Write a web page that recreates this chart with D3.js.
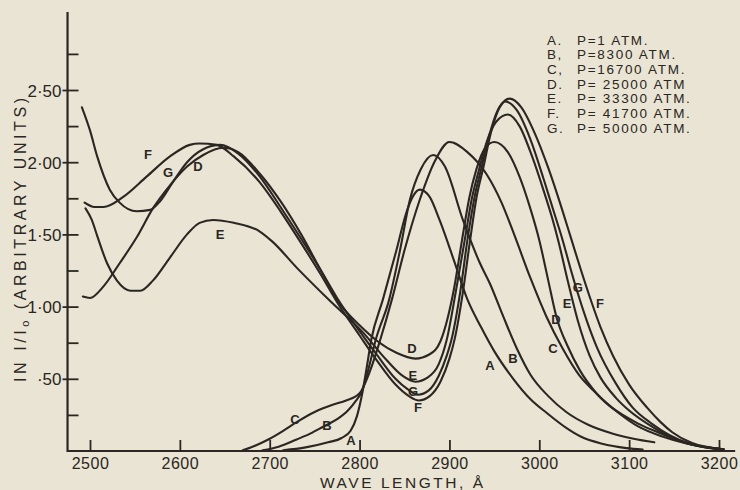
<!DOCTYPE html>
<html><head><meta charset="utf-8">
<script src="https://cdn.jsdelivr.net/npm/d3@7"></script>
<style>
html,body{margin:0;padding:0;background:#e9e4d3;}
svg{display:block;}
text{font-family:"Liberation Sans",Arial,sans-serif;fill:#2b2622;}
</style></head><body>
<svg id="chart" width="740" height="490"></svg>
<script>
// ---- data ----
const xTicks = [2500, 2600, 2700, 2800, 2900, 3000, 3100, 3200];
const yMajor = [0.5, 1.0, 1.5, 2.0, 2.5];
const yMajorLabels = ["·50", "1·00", "1·50", "2·00", "2·50"];
const yMinor = [0.25, 0.75, 1.25, 1.75, 2.25, 2.75];
const legendLetters = ["A.", "B,", "C,", "D.", "E.", "F.", "G."];
const legendTexts = ["P=1 ATM.", "P=8300 ATM.", "P=16700 ATM.", "P= 25000 ATM", "P= 33300 ATM.", "P= 41700 ATM.", "P= 50000 ATM."];
const xTitle = "WAVE LENGTH, Å";

const curveA = [[2715,0.005],[2740,0.025],[2765,0.06],[2780,0.09],[2790,0.14],[2797,0.24],[2803,0.40],[2808,0.58],[2813,0.77],[2826,1.05],[2841,1.39],[2852,1.65],[2860,1.77],[2867,1.81],[2878,1.76],[2889,1.60],[2905,1.32],[2920,1.05],[2935,0.86],[2950,0.69],[2971,0.50],[2990,0.36],[3009,0.26],[3030,0.16],[3046,0.10],[3070,0.05],[3097,0.02],[3115,0.01]];
const curveB = [[2692,0.005],[2710,0.03],[2730,0.08],[2745,0.12],[2760,0.17],[2775,0.22],[2787,0.28],[2795,0.34],[2803,0.42],[2810,0.57],[2818,0.77],[2833,1.05],[2845,1.39],[2856,1.74],[2868,1.95],[2882,2.05],[2895,1.97],[2915,1.60],[2934,1.30],[2945,1.16],[2960,0.93],[2975,0.71],[2990,0.53],[3010,0.38],[3030,0.27],[3055,0.18],[3082,0.12],[3105,0.085],[3128,0.06]];
const curveC = [[2670,0.005],[2685,0.04],[2700,0.085],[2715,0.14],[2730,0.20],[2750,0.27],[2770,0.32],[2785,0.35],[2800,0.40],[2812,0.56],[2823,0.77],[2836,1.05],[2850,1.39],[2867,1.74],[2884,2.01],[2900,2.14],[2920,2.07],[2941,1.92],[2958,1.72],[2972,1.50],[2990,1.20],[3008,0.93],[3026,0.71],[3045,0.52],[3060,0.42],[3081,0.30],[3110,0.19],[3136,0.12],[3160,0.06],[3185,0.025],[3205,0.012]];
const curveD = [[2492,1.07],[2500,1.06],[2515,1.14],[2533,1.30],[2552,1.48],[2570,1.68],[2589,1.84],[2608,1.97],[2626,2.05],[2648,2.10],[2665,2.07],[2689,1.92],[2712,1.73],[2735,1.50],[2757,1.25],[2778,1.02],[2800,0.87],[2820,0.76],[2841,0.68],[2862,0.64],[2878,0.67],[2890,0.76],[2898,0.92],[2905,1.12],[2914,1.46],[2922,1.75],[2930,1.95],[2940,2.10],[2950,2.14],[2965,2.07],[2978,1.90],[2990,1.68],[3000,1.46],[3010,1.18],[3019,0.93],[3032,0.72],[3045,0.56],[3065,0.39],[3089,0.26],[3110,0.17],[3137,0.10],[3165,0.05],[3193,0.02],[3205,0.012]];
const curveE = [[2495,1.68],[2502,1.60],[2508,1.49],[2519,1.30],[2530,1.18],[2545,1.11],[2556,1.11],[2570,1.18],[2589,1.34],[2608,1.50],[2622,1.58],[2637,1.60],[2660,1.58],[2689,1.52],[2703,1.45],[2730,1.27],[2767,1.04],[2804,0.82],[2830,0.63],[2848,0.52],[2862,0.48],[2876,0.51],[2888,0.60],[2897,0.77],[2907,1.10],[2917,1.46],[2925,1.75],[2933,1.95],[2942,2.15],[2952,2.28],[2965,2.33],[2978,2.25],[2992,2.04],[3005,1.80],[3014,1.62],[3021,1.46],[3032,1.17],[3043,0.90],[3056,0.66],[3068,0.51],[3085,0.37],[3100,0.28],[3125,0.17],[3145,0.10],[3170,0.045],[3205,0.012]];
const curveF = [[2494,1.72],[2505,1.69],[2515,1.69],[2537,1.76],[2563,1.90],[2589,2.04],[2611,2.12],[2622,2.13],[2641,2.12],[2660,2.04],[2689,1.86],[2712,1.66],[2735,1.44],[2757,1.22],[2775,1.03],[2800,0.80],[2820,0.62],[2840,0.46],[2855,0.38],[2866,0.35],[2878,0.38],[2890,0.48],[2900,0.64],[2906,0.78],[2915,1.10],[2923,1.46],[2930,1.75],[2938,1.97],[2946,2.20],[2956,2.38],[2967,2.44],[2980,2.38],[2995,2.20],[3010,1.96],[3025,1.68],[3036,1.46],[3046,1.26],[3056,1.07],[3068,0.86],[3082,0.66],[3100,0.46],[3120,0.30],[3135,0.20],[3148,0.13],[3170,0.055],[3205,0.012]];
const curveG = [[2491,2.38],[2500,2.22],[2508,2.04],[2522,1.81],[2533,1.72],[2552,1.66],[2567,1.67],[2578,1.73],[2592,1.86],[2608,2.00],[2626,2.09],[2645,2.12],[2665,2.06],[2689,1.90],[2712,1.69],[2735,1.47],[2757,1.25],[2775,1.06],[2800,0.83],[2820,0.66],[2840,0.50],[2853,0.43],[2865,0.39],[2877,0.42],[2888,0.52],[2897,0.66],[2903,0.79],[2912,1.10],[2920,1.46],[2928,1.76],[2936,1.97],[2945,2.20],[2953,2.35],[2962,2.42],[2975,2.36],[2990,2.16],[3005,1.88],[3016,1.66],[3026,1.46],[3034,1.28],[3042,1.11],[3053,0.90],[3064,0.72],[3085,0.47],[3104,0.30],[3125,0.19],[3145,0.11],[3170,0.045],[3205,0.012]];

const curveLabelNames = ["F","G","D","E","D","E","G","F","C","B","A","A","B","C","D","E","G","F"];
const curveLabelWl    = [2564.5,2586.8,2620.2,2644.7,2858.3,2859.4,2859.4,2865,2728,2763.7,2790.4,2945,2970.7,3015.2,3018.6,3030.8,3043,3067.5];
const curveLabelVal   = [2.05,1.93,1.97,1.50,0.71,0.52,0.415,0.30,0.215,0.18,0.076,0.59,0.64,0.71,0.91,1.02,1.13,1.02];

// ---- drawing ----
const ink = "#2b2622";
const svg = d3.select("#chart");
const x = d3.scaleLinear().domain([2500, 3200]).range([90, 719]);
const y = d3.scaleLinear().domain([0, 2.5]).range([451, 90]);
const xAxisExtent = [2475, 3218];
const yAxisTop = 3.04;

// axis lines
svg.append("line").attr("x1", x(xAxisExtent[0])).attr("x2", x(xAxisExtent[1]))
  .attr("y1", y(0)).attr("y2", y(0)).attr("stroke", ink).attr("stroke-width", 2.2);
svg.append("line").attr("x1", x(xAxisExtent[0])).attr("x2", x(xAxisExtent[0]))
  .attr("y1", y(0) + 1).attr("y2", y(yAxisTop)).attr("stroke", ink).attr("stroke-width", 2.2);

// x axis ticks (upwards) + labels
const gx = svg.append("g").attr("transform", `translate(0,${y(0)})`)
  .call(d3.axisBottom(x).tickValues(xTicks).tickSize(-11).tickFormat(d3.format("d")));
gx.select(".domain").remove();
gx.selectAll(".tick line").attr("stroke", ink).attr("stroke-width", 1.8);
gx.selectAll(".tick text").attr("y", 18).attr("dy", 0)
  .style("font-size", "16px").style("letter-spacing", "0.5px")
  .style("font-family", '"Liberation Sans",Arial,sans-serif').attr("fill", ink);

// y axis: minor ticks
const axisX = x(xAxisExtent[0]);
const gyMinor = svg.append("g").attr("transform", `translate(${axisX},0)`)
  .call(d3.axisLeft(y).tickValues(yMinor).tickSize(-11).tickFormat(""));
gyMinor.select(".domain").remove();
gyMinor.selectAll(".tick line").attr("stroke", ink).attr("stroke-width", 1.8);

// y axis: major ticks, crossing the axis
const gyMajor = svg.append("g").attr("transform", `translate(${axisX},0)`)
  .call(d3.axisLeft(y).tickValues(yMajor).tickSize(-11).tickPadding(6)
    .tickFormat((d, i) => yMajorLabels[i]));
gyMajor.select(".domain").remove();
gyMajor.selectAll(".tick line").attr("x1", -5).attr("stroke", ink).attr("stroke-width", 1.8);
gyMajor.selectAll(".tick text").attr("dy", "0.36em")
  .style("font-size", "17px").style("font-family", '"Liberation Sans",Arial,sans-serif').attr("fill", ink);

// curves
const line = d3.line().x(d => x(d[0])).y(d => y(d[1])).curve(d3.curveMonotoneX);
[curveA, curveB, curveC, curveD, curveE, curveF, curveG].forEach(c => {
  svg.append("path").datum(c).attr("d", line).attr("fill", "none")
    .attr("stroke", ink).attr("stroke-width", 2.1).attr("stroke-linejoin", "round").attr("stroke-linecap", "round");
});

// curve labels
curveLabelNames.forEach((n, i) => {
  svg.append("text").attr("x", x(curveLabelWl[i])).attr("y", y(curveLabelVal[i]))
    .attr("text-anchor", "middle").attr("dominant-baseline", "central")
    .style("font-size", "13px").style("font-weight", "bold").text(n);
});

// legend
legendLetters.forEach((l, i) => {
  const by = 44.5 + i * 14.7;
  svg.append("text").attr("x", 547).attr("y", by).style("font-size", "13.5px")
    .style("letter-spacing", "1.5px").text(l);
  svg.append("text").attr("x", 577).attr("y", by).style("font-size", "13.5px")
    .style("letter-spacing", "1.7px").text(legendTexts[i]);
});

// x title
svg.append("text").attr("x", 320).attr("y", 488).attr("textLength", 163)
  .attr("lengthAdjust", "spacing").style("font-size", "15.5px").text(xTitle);

// y title (rotated)
const yt = svg.append("text").attr("transform", "translate(26,382) rotate(-90)")
  .attr("textLength", 284).attr("lengthAdjust", "spacing").style("font-size", "16px");
yt.append("tspan").text("IN I/I");
yt.append("tspan").attr("dy", 3).style("font-size", "11px").text("o");
yt.append("tspan").attr("dy", -3).text(" (ARBITRARY UNITS)");
</script>
</body></html>
